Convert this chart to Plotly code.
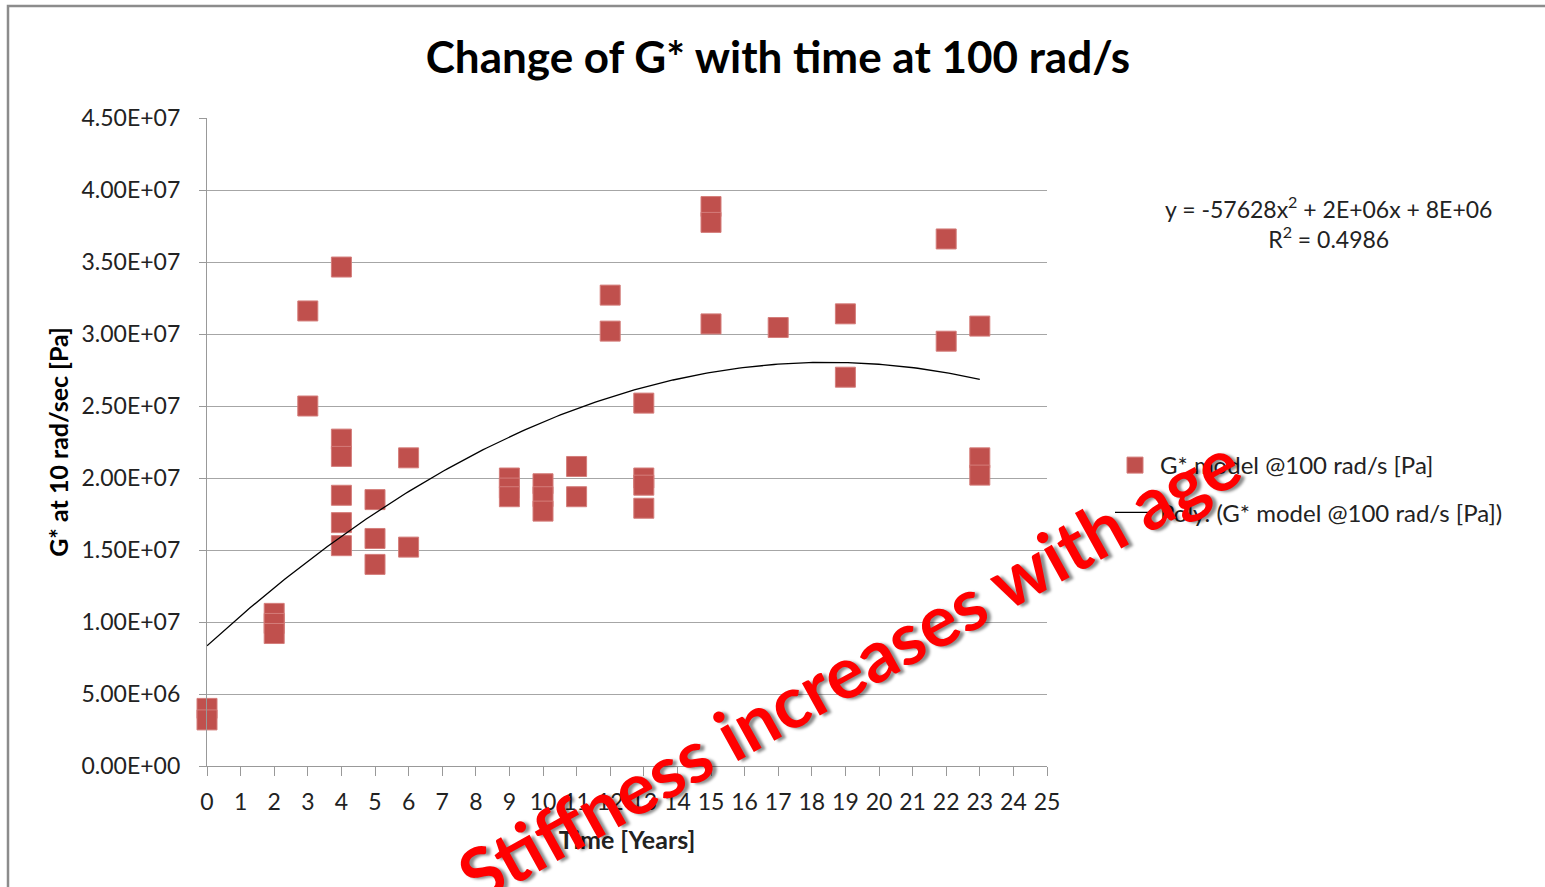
import numpy as np
import plotly.graph_objects as go

# ---- data ----
time_years = [0, 0, 2, 2, 2, 3, 3, 4, 4, 4, 4, 4, 4, 5, 5, 5, 6, 6,
              9, 9, 9, 10, 10, 10, 11, 11, 12, 12, 13, 13, 13, 13,
              15, 15, 15, 17, 19, 19, 22, 22, 23, 23, 23]
g_star_pa = [4.0e6, 3.2e6, 10.6e6, 9.9e6, 9.2e6, 31.6e6, 25.0e6,
             34.65e6, 22.7e6, 21.5e6, 18.8e6, 16.9e6, 15.3e6,
             18.5e6, 15.8e6, 14.0e6, 21.4e6, 15.2e6,
             20.0e6, 19.3e6, 18.7e6, 19.6e6, 18.7e6, 17.7e6,
             20.8e6, 18.7e6, 32.7e6, 30.2e6,
             25.2e6, 20.0e6, 19.5e6, 17.9e6,
             38.85e6, 37.75e6, 30.7e6, 30.45e6, 31.4e6, 27.0e6,
             36.6e6, 29.5e6, 30.55e6, 21.4e6, 20.2e6]
# order-2 trendline coefficients (a, b, c) as drawn in the chart
trend_coefs = [-57628, 2.13e6, 8.35e6]
trend_x_range = [0, 23]
x_tick_vals = list(range(0, 26))
y_tick_vals = [0, 5e6, 1e7, 1.5e7, 2e7, 2.5e7, 3e7, 3.5e7, 4e7, 4.5e7]
y_tick_text = ["0.00E+00", "5.00E+06", "1.00E+07", "1.50E+07", "2.00E+07",
               "2.50E+07", "3.00E+07", "3.50E+07", "4.00E+07", "4.50E+07"]
series_name = "G* model @100 rad/s [Pa]"
trend_name = "Poly. (G* model @100 rad/s [Pa])"
equation_text = "y = -57628x<sup>2</sup> + 2E+06x + 8E+06<br>R<sup>2</sup> = 0.4986"
title_text = "Change of G* with time at 100 rad/s"
x_title = "Time [Years]"
y_title = "G* at 10 rad/sec [Pa]"
stamp_text = "Stiffness increases with age"

fit_x = np.linspace(trend_x_range[0], trend_x_range[1], 200)
fit_y = np.polyval(trend_coefs, fit_x)

FONT = "Lato"
W, H = 1545, 887
L, R, T, B = 207, 498, 118, 121
pw, ph = W - L - R, H - T - B

def px(xp):
    return (xp - L) / pw

def py(yp):
    return (H - B - yp) / ph

fig = go.Figure()
fig.add_trace(go.Scatter(
    x=time_years, y=g_star_pa, mode="markers", name=series_name,
    legendgroup="a", cliponaxis=False,
    marker=dict(symbol="square", size=20, color="#C0504D",
                line=dict(color="#D47D7A", width=1)),
))
fig.add_trace(go.Scatter(
    x=fit_x, y=fit_y, mode="lines", name=trend_name, legendgroup="b",
    line=dict(color="black", width=1.3),
))

fig.update_layout(
    width=W, height=H,
    margin=dict(l=L, r=R, t=T, b=B, autoexpand=False),
    paper_bgcolor="white", plot_bgcolor="white",
    font=dict(family=FONT, size=22, color="#222"),
    title=dict(text="<b>" + title_text + "</b>", xref="container", x=778 / W,
               xanchor="center", y=1 - 58 / H, yanchor="middle",
               font=dict(family=FONT, size=44, color="black")),
    showlegend=True,
    legend=dict(x=px(1110), y=py(443), xanchor="left", yanchor="top",
                bgcolor="rgba(0,0,0,0)", font=dict(family=FONT, size=24, color="#222"),
                tracegroupgap=13, itemwidth=40),
    xaxis=dict(range=[0, 25], tickvals=x_tick_vals, showgrid=False,
               showline=True, linecolor="#999", linewidth=1.3,
               ticks="outside", ticklen=9, tickcolor="#999", tickwidth=1.3,
               zeroline=False, ticklabelstandoff=6,
               tickfont=dict(family=FONT, size=23, color="#222"),
               title=dict(text="<b>" + x_title + "</b>", standoff=17,
                          font=dict(family=FONT, size=25, color="#222"))),
    yaxis=dict(range=[0, 4.5e7], tickvals=y_tick_vals, ticktext=y_tick_text,
               showgrid=True, gridcolor="#A6A6A6", gridwidth=1.3,
               showline=True, linecolor="#999", linewidth=1.3,
               ticks="outside", ticklen=7, tickcolor="#999", tickwidth=1.3,
               zeroline=False, ticklabelstandoff=14,
               tickfont=dict(family=FONT, size=23, color="#222"),
               title=dict(text="<b>" + y_title + "</b>", standoff=5,
                          font=dict(family=FONT, size=25, color="black"))),
)

# outer chart frame
fig.add_shape(type="rect", xref="paper", yref="paper",
              x0=px(8), x1=px(1560), y0=py(900), y1=py(6),
              line=dict(color="#8C8C8C", width=2.5), layer="below")

# trendline equation
fig.add_annotation(text=equation_text, xref="paper", yref="paper",
                   x=px(1328), y=py(222), xanchor="center", yanchor="middle",
                   showarrow=False, align="center",
                   font=dict(family=FONT, size=23, color="#222"))

# stamp overlay
fig.add_annotation(text="<b>" + stamp_text + "</b>", xref="paper", yref="paper",
                   x=px(848), y=py(668), xanchor="center", yanchor="middle",
                   showarrow=False, textangle=-29,
                   font=dict(family=FONT, size=72, color="#FF0000",
                             shadow="3px 3px 3px rgba(0,0,0,0.45)"))

fig.write_html("out.html")
